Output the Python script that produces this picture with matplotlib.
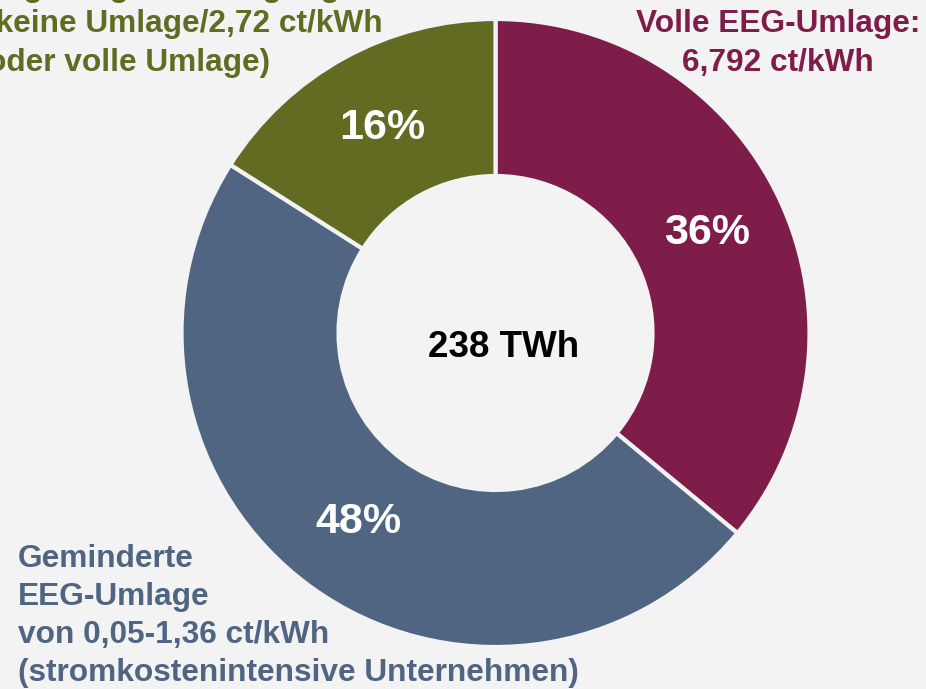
import matplotlib
matplotlib.use("Agg")
import matplotlib.pyplot as plt

# Data
categories = ["Volle EEG-Umlage", "Geminderte EEG-Umlage", "Eigenversorgung"]
shares = [36, 48, 16]
total_label = "238 TWh"
label_full = "Volle EEG-Umlage:\n6,792 ct/kWh"
label_reduced = "Geminderte\nEEG-Umlage\nvon 0,05-1,36 ct/kWh\n(stromkostenintensive Unternehmen)"
label_self_lines = ["Begünstigte Eigenversorgung", "(keine Umlage/2,72 ct/kWh", "oder volle Umlage)"]

colors = ["#7e1c4a", "#4f6582", "#636b23"]
bg = "#f3f3f3"

plt.rcParams['font.family'] = ['Liberation Sans', 'DejaVu Sans']
plt.rcParams['font.weight'] = 'bold'

W, H = 926, 689
fig = plt.figure(figsize=(W / 100, H / 100), dpi=100, facecolor=bg)

cx, cy, R = 495.5, 333.0, 314.0
ax = fig.add_axes([(cx - R) / W, (H - cy - R) / H, 2 * R / W, 2 * R / H])
ax.set_facecolor(bg)

wedges, texts, autotexts = ax.pie(
    shares, colors=colors, startangle=90, counterclock=False,
    radius=1.0, autopct='%.0f%%', pctdistance=0.745,
    wedgeprops=dict(width=0.5, edgecolor=bg, linewidth=3),
    textprops=dict(color='white', fontsize=31, fontweight='bold'))
ax.set_xlim(-1, 1)
ax.set_ylim(-1, 1)
ax.set_aspect('equal')
ax.axis('off')

ax.text(0.025, -0.045, total_label, ha='center', va='center',
        fontsize=26.5, fontweight='bold', color='black')

def fx(px):
    return px / W

def fy(py):
    return 1 - py / H

fig.text(fx(778), fy(43.5), label_full, ha='center', va='center',
         fontsize=22.8, fontweight='bold', color=colors[0], linespacing=1.4,
         multialignment='center')

fig.text(fx(18), fy(616), label_reduced, ha='left', va='center',
         fontsize=22.8, fontweight='bold', color=colors[1], linespacing=1.36)

line_y = [-12.5, 24, 63]
line_x = [340, 383, 270]
for txt, xx, yy in zip(label_self_lines, line_x, line_y):
    fig.text(fx(xx), fy(yy), txt, ha='right', va='center',
             fontsize=22.8, fontweight='bold', color=colors[2])

fig.savefig("out.png", dpi=100, facecolor=bg)
